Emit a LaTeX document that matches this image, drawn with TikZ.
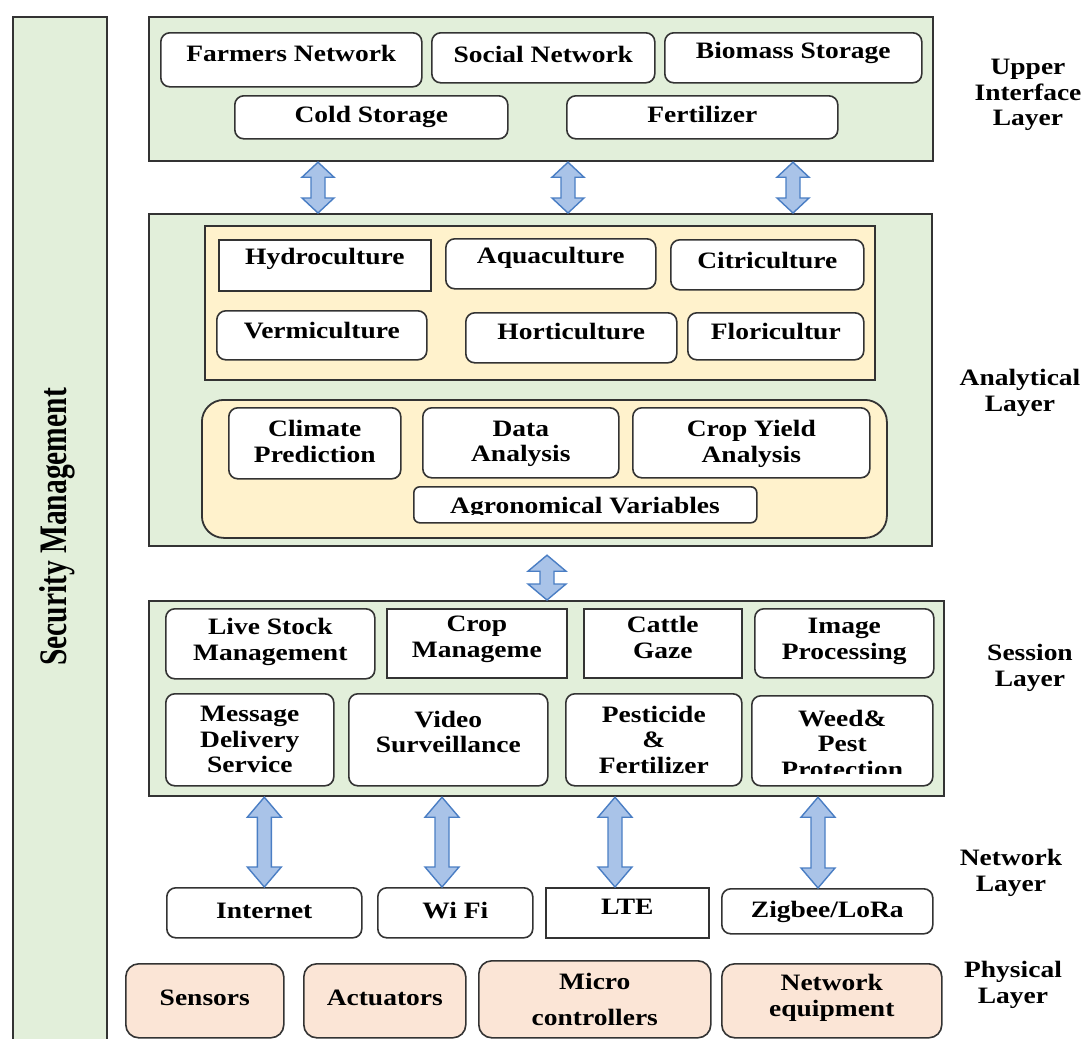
\documentclass[tikz,border=0pt]{standalone}
\usepackage{fontspec}
\setmainfont{Liberation Serif}[FakeStretch=1.17]
\newfontfamily\secfont{Liberation Serif}
\usetikzlibrary{calc}
\definecolor{greenfill}{HTML}{E2EFDA}
\definecolor{yellowfill}{HTML}{FFF2CC}
\definecolor{peachfill}{HTML}{FBE5D6}
\definecolor{arrowfill}{HTML}{A9C3E8}
\definecolor{arrowline}{HTML}{4A7EC4}
\definecolor{edge}{HTML}{333333}
\tikzset{
  layerbox/.style={draw=edge, line width=2.2pt, fill=greenfill, inner sep=0pt},
  rbox/.style={draw=edge, line width=1.6pt, fill=white, rounded corners=9pt, inner sep=0pt},
  sbox/.style={draw=edge, line width=1.6pt, fill=white, inner sep=0pt},
  ybox/.style={draw=edge, line width=1.8pt, fill=yellowfill, inner sep=0pt},
  yrbox/.style={draw=edge, line width=1.8pt, fill=yellowfill, rounded corners=22pt, inner sep=0pt},
  pbox/.style={draw=edge, line width=1.6pt, fill=peachfill, rounded corners=13pt, inner sep=0pt},
  txt/.style={align=center, inner sep=0pt, font=\fontsize{23.5}{25.5}\selectfont\bfseries, text=black},
  dbl/.style={fill=arrowfill, draw=arrowline, line width=1.4pt, line join=miter},
}
\newcommand\bx[8]{%
  \node[#1, anchor=north west, minimum width={(#5)-(#3)}, minimum height={(#6)-(#4)}] (#2) at (#3,#4) {};
  \node[txt] (#2t) at ([yshift=#8pt]#2.center) {#7};}
\newcommand\darrow[5]{%
  \draw[dbl] let \p1=#1, \p2=#2 in
   (\x1-#4,\y1-#5) -- (\x1-#3,\y1-#5) -- (\x1,\y1) -- (\x1+#3,\y1-#5) -- (\x1+#4,\y1-#5)
   -- (\x2+#4,\y2+#5) -- (\x2+#3,\y2+#5) -- (\x2,\y2) -- (\x2-#3,\y2+#5) -- (\x2-#4,\y2+#5) -- cycle;}
\begin{document}
\begin{tikzpicture}[x=1pt, y=-1pt]
\useasboundingbox[fill=white] (0,0) rectangle (1088,1039);

% Security management bar
\node[layerbox, anchor=north west, minimum width=94, minimum height=1035] (sec) at (12,16) {};
\node[rotate=90, inner sep=0pt] (sect) at (57,527) {\scalebox{1}[1.32]{\secfont\fontsize{29.5}{31}\selectfont\bfseries Security Management}};

% Upper interface layer
\node[layerbox, anchor=north west, minimum width=784, minimum height=144] (up) at (148,16) {};
\bx{rbox}{fn}{160}{32}{421}{86}{Farmers Network}{6.5}
\bx{rbox}{sn}{431}{32}{654}{82}{Social Network}{3.5}
\bx{rbox}{bs}{664}{32}{921}{82}{Biomass Storage}{5}
\bx{rbox}{cs}{234}{95}{507}{138}{Cold Storage}{0}
\bx{rbox}{fe}{566}{95}{837}{138}{Fertilizer}{3}

% Analytical layer
\node[layerbox, anchor=north west, minimum width=783, minimum height=332] (an) at (148,213) {};
\node[ybox, anchor=north west, minimum width=670, minimum height=154] (o1) at (204,225) {};
\bx{sbox}{hy}{218}{239}{430}{290}{Hydroculture}{6}
\bx{rbox}{aq}{445}{238}{655}{288}{Aquaculture}{5.5}
\bx{rbox}{ci}{670}{239}{863}{289}{Citriculture}{4}
\bx{rbox}{ve}{216}{310}{426}{359}{Vermiculture}{5}
\bx{rbox}{ho}{465}{312}{676}{362}{Horticulture}{6}
\bx{rbox}{fl}{687}{312}{863}{359}{Floricultur}{5}
\node[yrbox, anchor=north west, minimum width=685, minimum height=138] (o2) at (201,399) {};
\bx{rbox}{cp}{228}{407}{400}{478}{Climate\\Prediction}{2}
\bx{rbox}{da}{422}{407}{618}{477}{Data\\Analysis}{-1}
\bx{rbox}{cy}{632}{407}{869}{477}{Crop Yield\\Analysis}{-1}
\node[rbox, rounded corners=6pt, anchor=north west, minimum width=343, minimum height=36] (av) at (413,486) {};
\begin{scope}
  \clip (414,487) rectangle (755,514);
  \node[txt] (avt) at (585,508) {Agronomical Variables};
\end{scope}

% Session layer
\node[layerbox, anchor=north west, minimum width=795, minimum height=195] (se) at (148,600) {};
\bx{rbox}{lsm}{165}{608}{374}{678}{Live Stock\\Management}{2}
\bx{sbox}{cm}{386}{608}{566}{677}{Crop\\Manageme}{4}
\bx{sbox}{cg}{583}{608}{741}{677}{Cattle\\Gaze}{6}
\bx{rbox}{ip}{754}{608}{933}{677}{Image\\Processing}{2}
\bx{rbox}{md}{165}{693}{333}{785}{Message\\Delivery\\Service}{0}
\bx{rbox}{vs}{348}{693}{547}{785}{Video\\Surveillance}{8}
\bx{rbox}{pf}{565}{693}{741}{785}{Pesticide\\\&\\Fertilizer}{0}
\node[rbox, anchor=north west, minimum width=181, minimum height=90] (wp) at (751,695) {};
\begin{scope}
  \clip (752,696) rectangle (931,773);
  \node[txt] (wpt) at ([yshift=-3pt]wp.center) {Weed\&\\Pest\\Protection};
\end{scope}

% Network layer
\bx{rbox}{inet}{166}{887}{361}{937}{Internet}{2}
\bx{rbox}{wf}{377}{887}{532}{937}{Wi Fi}{2}
\bx{sbox}{lte}{545}{887}{708}{937}{LTE}{6.5}
\bx{rbox}{zl}{721}{888}{932}{933}{Zigbee/LoRa}{-1}

% Physical layer
\bx{pbox}{sen}{125}{963}{283}{1037}{Sensors}{3}
\bx{pbox}{act}{303}{963}{465}{1037}{Actuators}{3}
\bx{pbox}{mc}{478}{960}{710}{1037}{Micro\\[10pt]controllers}{0}
\bx{pbox}{ne}{721}{963}{941}{1037}{Network\\equipment}{3}

% Layer labels
\node[txt] (lu) at (1028,95) {Upper\\Interface\\Layer};
\node[txt] (la) at (1020,393) {Analytical\\Layer};
\node[txt] (lse) at (1030,668) {Session\\Layer};
\node[txt] (lne) at (1011,873) {Network\\Layer};
\node[txt] (lph) at (1013,985) {Physical\\Layer};

% arrows
\coordinate (a1) at (318,0);
\coordinate (a2) at (568,0);
\coordinate (a3) at (793,0);
\coordinate (a4) at (547,0);
\darrow{(up.south -| a1)}{(an.north -| a1)}{16pt}{7pt}{15pt}
\darrow{(up.south -| a2)}{(an.north -| a2)}{16pt}{7pt}{15pt}
\darrow{(up.south -| a3)}{(an.north -| a3)}{16pt}{7pt}{15pt}
\darrow{([yshift=-8pt]an.south -| a4)}{(se.north -| a4)}{19pt}{7pt}{16pt}
\darrow{(se.south -| inet.center)}{(inet.north)}{17pt}{7pt}{20pt}
\coordinate (b2) at (442,0);
\coordinate (b3) at (615,0);
\coordinate (b4) at (818,0);
\darrow{(se.south -| b2)}{(wf.north -| b2)}{17pt}{7pt}{20pt}
\darrow{(se.south -| b3)}{(lte.north -| b3)}{17pt}{7pt}{20pt}
\darrow{(se.south -| b4)}{(zl.north -| b4)}{17pt}{7pt}{20pt}
\end{tikzpicture}
\end{document}
